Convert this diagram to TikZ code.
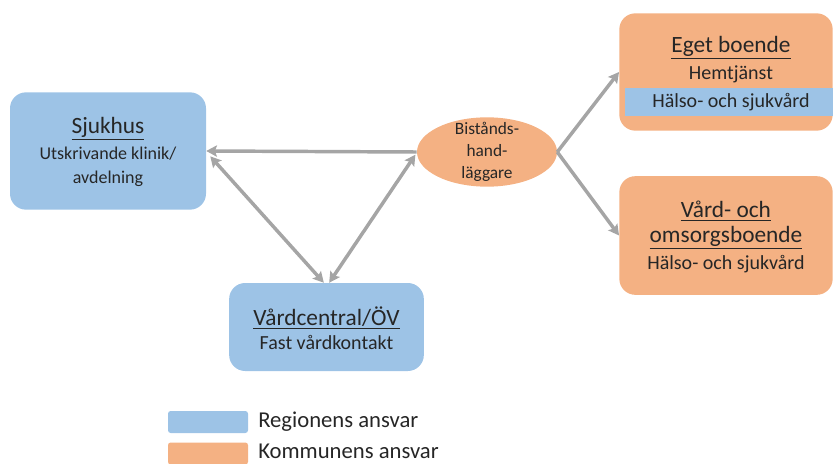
\documentclass[tikz,border=0pt]{standalone}
\usepackage{fontspec}
\setmainfont{Carlito}
\usetikzlibrary{shapes.geometric, arrows.meta}
\definecolor{blaa}{HTML}{9DC3E6}
\definecolor{orange}{HTML}{F4B183}
\definecolor{pil}{HTML}{A5A5A5}
\tikzset{
  ruta/.style={rectangle, rounded corners=12pt, align=center, text=black!85},
  region/.style={ruta, fill=blaa},
  kommun/.style={ruta, fill=orange},
  pilar/.style={draw=pil, line width=2.6pt},
}
\newcommand{\rubrik}[1]{{\fontsize{17.5}{21}\selectfont\underline{#1}}}
\begin{document}
\begin{tikzpicture}[>={Stealth[length=8pt, width=8.5pt, inset=1.5pt]}, x=0.75pt, y=-0.75pt, line join=round]
    \useasboundingbox (0,0) rectangle (833,464);
    % Regionen
    \node[region, minimum width=147pt, minimum height=88pt] (sjukhus) at (108,151) {};
    \node[region, minimum width=146pt, minimum height=66pt] (vc) at (326.5,327) {};
    % Kommunen
    \node[kommun, ellipse, minimum width=105pt, minimum height=52pt, inner sep=0pt] (bist) at (487,152) {};
    \node[kommun, minimum width=160pt, minimum height=88pt] (eget) at (726,72) {};
    \node[kommun, minimum width=160pt, minimum height=89pt] (vob) at (726,235.5) {};
    \fill[blaa] (625,88) rectangle (833,116);
    % texter
    \begin{scope}[every node/.style={text=black!85, font=\fontsize{15}{18}\selectfont}]
        \node (t1) at (108,129) {\rubrik{Sjukhus}};
        \node[font=\fontsize{13.5}{17}\selectfont] (t2) at (108,154) {Utskrivande klinik/};
        \node[font=\fontsize{13.5}{17}\selectfont] (t3) at (108,179) {avdelning};
        \node (t4) at (326.5,318) {\rubrik{Vårdcentral/ÖV}};
        \node (t5) at (326.5,342) {Fast vårdkontakt};
        \node[align=center, font=\fontsize{13}{16.5}\selectfont] (t6) at (bist) {Bistånds-\\hand-\\läggare};
        \node (t7) at (731,48) {\rubrik{Eget boende}};
        \node (t8) at (731,74) {Hemtjänst};
        \node (t9) at (731,102) {Hälso- och sjukvård};
        \node (t10) at (726,211) {\rubrik{Vård- och}};
        \node (t11) at (726,238) {\rubrik{omsorgsboende}};
        \node (t12) at (726,264) {Hälso- och sjukvård};
    \end{scope}
    % pilar
    \draw[pilar, <-] (sjukhus.east) -- (bist.west);
    \draw[pilar, <->] ([shift={(3pt,-4pt)}]sjukhus.east) -- ([xshift=-2pt]vc.north);
    \draw[pilar, <->] ([xshift=2pt]vc.north) -- ([shift={(-1pt,-2pt)}]bist.west);
    \draw[pilar, ->] (bist.east) -- (eget.west);
    \draw[pilar, ->] (bist.east) -- (vob.west);
    % teckenförklaring
    \node[fill=blaa, rounded corners=2pt, minimum width=60pt, minimum height=16.5pt] (lr) at (208,422) {};
    \node[fill=orange, rounded corners=2pt, minimum width=60pt, minimum height=16.5pt] (lk) at (208,453.5) {};
    \node[right, font=\fontsize{17}{20}\selectfont, text=black!85, inner sep=0pt] (lrt) at (258,421.5) {Regionens ansvar};
    \node[right, font=\fontsize{17}{20}\selectfont, text=black!85, inner sep=0pt] (lkt) at (258,451.5) {Kommunens ansvar};
\end{tikzpicture}
\end{document}
